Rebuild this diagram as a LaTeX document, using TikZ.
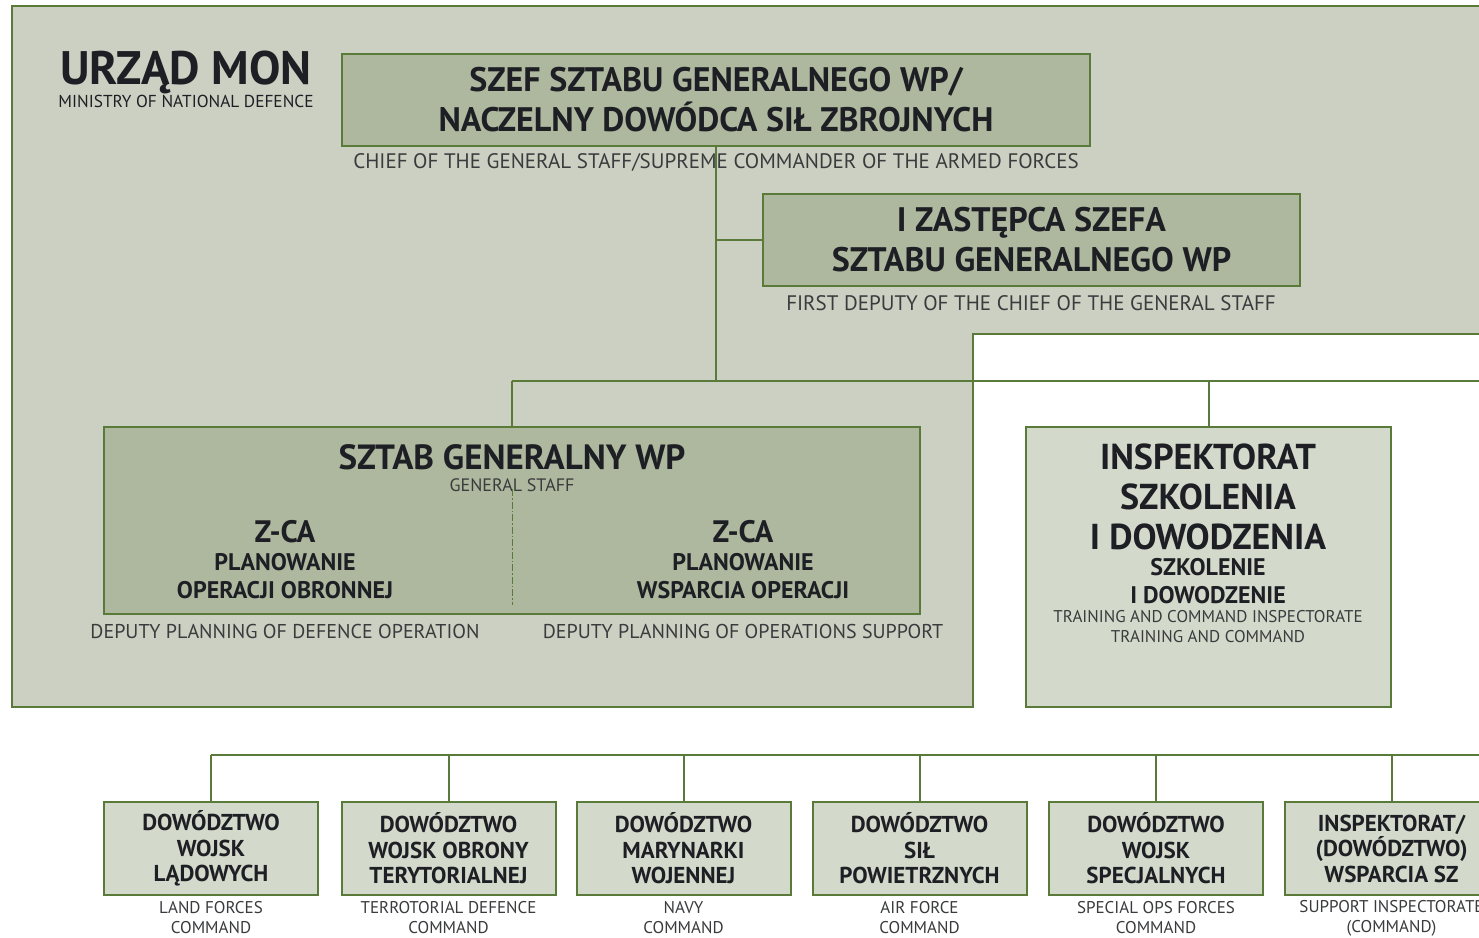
\documentclass[tikz,border=0pt]{standalone}
\usepackage{fontspec}
\newfontfamily\din{PT Sans}
\definecolor{bgc}{HTML}{CCD0C2}
\definecolor{dkbox}{HTML}{ADB89E}
\definecolor{ltbox}{HTML}{D4DACB}
\definecolor{edge}{HTML}{5A7A3A}
\definecolor{ink}{HTML}{1E1F24}
\definecolor{labink}{HTML}{3A3B3D}
\newcommand{\fsz}[2]{\fontsize{#1}{#2}\selectfont}
\begin{document}
\begin{tikzpicture}[x=1pt,y=-1pt,
  boxdk/.style={draw=edge, line width=2pt, fill=dkbox, inner sep=0pt, text=ink, align=center},
  boxlt/.style={draw=edge, line width=2pt, fill=ltbox, inner sep=0pt, text=ink, align=center},
  conn/.style={draw=edge, line width=2pt},
  txt/.style={inner sep=0pt, text=ink, align=center},
  lab/.style={inner sep=0pt, text=labink, align=center},
  bigf/.style={font=\din\bfseries\fsz{34}{40}},
  capf/.style={font=\din\fsz{21}{24}}
]
\clip (0,0) rectangle (1479,937);
\fill[white] (0,0) rectangle (1479,937);
% background region
\filldraw[fill=bgc, draw=edge, line width=2pt]
  (12,6) -- (1520,6) -- (1520,334) -- (973,334) -- (973,707) -- (12,707) -- cycle;

% title
\node[txt, font=\din\bfseries\fsz{47}{47}] (urzad) at (186,72) {URZĄD MON};
\node[txt, font=\din\fsz{17.3}{17}] (mon) at (186,101) {MINISTRY OF NATIONAL DEFENCE};

% chief
\node[boxdk, bigf, minimum width=748pt, minimum height=92pt] (chief) at (716,100)
  {SZEF SZTABU GENERALNEGO WP/\\NACZELNY DOWÓDCA SIŁ ZBROJNYCH};
\node[lab, capf] (chieflab) at (716,162)
  {CHIEF OF THE GENERAL STAFF/SUPREME COMMANDER OF THE ARMED FORCES};

% first deputy
\node[boxdk, bigf, minimum width=537pt, minimum height=92pt] (dep) at (1031.5,240)
  {I ZASTĘPCA SZEFA\\SZTABU GENERALNEGO WP};
\node[lab, capf] (deplab) at (1031,303)
  {FIRST DEPUTY OF THE CHIEF OF THE GENERAL STAFF};

% general staff
\node[boxdk, minimum width=816pt, minimum height=187pt] (sg) at (512,520.5) {};
\node[txt, font=\din\bfseries\fsz{35}{35}] (sgt) at (512,457) {SZTAB GENERALNY WP};
\node[lab, font=\din\fsz{18}{18}] (sgs) at (512,485) {GENERAL STAFF};
\draw[edge, line width=1pt, dash pattern=on 7pt off 2pt on 1.5pt off 2pt]
  ([yshift=-63pt]sg.north) -- ([yshift=10pt]sg.south);
\node[txt, font=\din\bfseries\fsz{31}{31}] (zl) at (285,532) {Z-CA};
\node[txt, font=\din\bfseries\fsz{24}{28}] (zlt) at (285,576) {PLANOWANIE\\OPERACJI OBRONNEJ};
\node[txt, font=\din\bfseries\fsz{31}{31}] (zr) at (743,532) {Z-CA};
\node[txt, font=\din\bfseries\fsz{24}{28}] (zrt) at (743,576) {PLANOWANIE\\WSPARCIA OPERACJI};
\node[lab, font=\din\fsz{20}{20}] (zll) at (285,631) {DEPUTY PLANNING OF DEFENCE OPERATION};
\node[lab, font=\din\fsz{20}{20}] (zrl) at (743,631) {DEPUTY PLANNING OF OPERATIONS SUPPORT};

% inspectorate
\node[boxlt, minimum width=365pt, minimum height=280pt] (insp) at (1208.5,567) {};
\node[txt, font=\din\bfseries\fsz{36}{40}] (inspt) at (1208,496.5) {INSPEKTORAT\\SZKOLENIA\\I DOWODZENIA};
\node[txt, font=\din\bfseries\fsz{24}{28}] (insps) at (1208,581) {SZKOLENIE\\I DOWODZENIE};
\node[lab, font=\din\fsz{17}{20}] (inspl) at (1208,627) {TRAINING AND COMMAND INSPECTORATE\\TRAINING AND COMMAND};

% bottom commands
\foreach \i/\x/\t/\l in {
  1/211/{DOWÓDZTWO\\WOJSK\\LĄDOWYCH}/{LAND FORCES\\COMMAND},
  2/448.5/{DOWÓDZTWO\\WOJSK OBRONY\\TERYTORIALNEJ}/{TERROTORIAL DEFENCE\\COMMAND},
  3/683.5/{DOWÓDZTWO\\MARYNARKI\\WOJENNEJ}/{NAVY\\COMMAND},
  4/919.5/{DOWÓDZTWO\\SIŁ\\POWIETRZNYCH}/{AIR FORCE\\COMMAND},
  5/1156/{DOWÓDZTWO\\WOJSK\\SPECJALNYCH}/{SPECIAL OPS FORCES\\COMMAND},
  6/1391.5/{INSPEKTORAT/\\(DOWÓDZTWO)\\WSPARCIA SZ}/{SUPPORT INSPECTORATE\\(COMMAND)}}{
  \node[boxlt, font=\din\bfseries\fsz{23}{25.5}, minimum width=214pt, minimum height=93pt] (b\i) at (\x,848.5) {\t};
  \node[lab, font=\din\fsz{17}{20}] (bl\i) at (\x,918) {\l};
}

% connectors
\coordinate (busA) at (512,381);
\coordinate (busAend) at (1520,381);
\coordinate (busB) at (211,755);
\coordinate (busBend) at (1520,755);
\draw[conn] (chief.south) -- (chief.south |- busA);
\draw[conn] (chief.south |- dep.west) -- (dep.west);
\draw[conn] (sg.north |- busA) -- (busAend);
\draw[conn] (sg.north) -- (sg.north |- busA);
\draw[conn] (insp.north) -- (insp.north |- busA);
\draw[conn] (b1.north |- busB) -- (busBend);
\foreach \i in {1,...,6}{
  \draw[conn] (b\i.north) -- (b\i.north |- busB);
}
\end{tikzpicture}
\end{document}
